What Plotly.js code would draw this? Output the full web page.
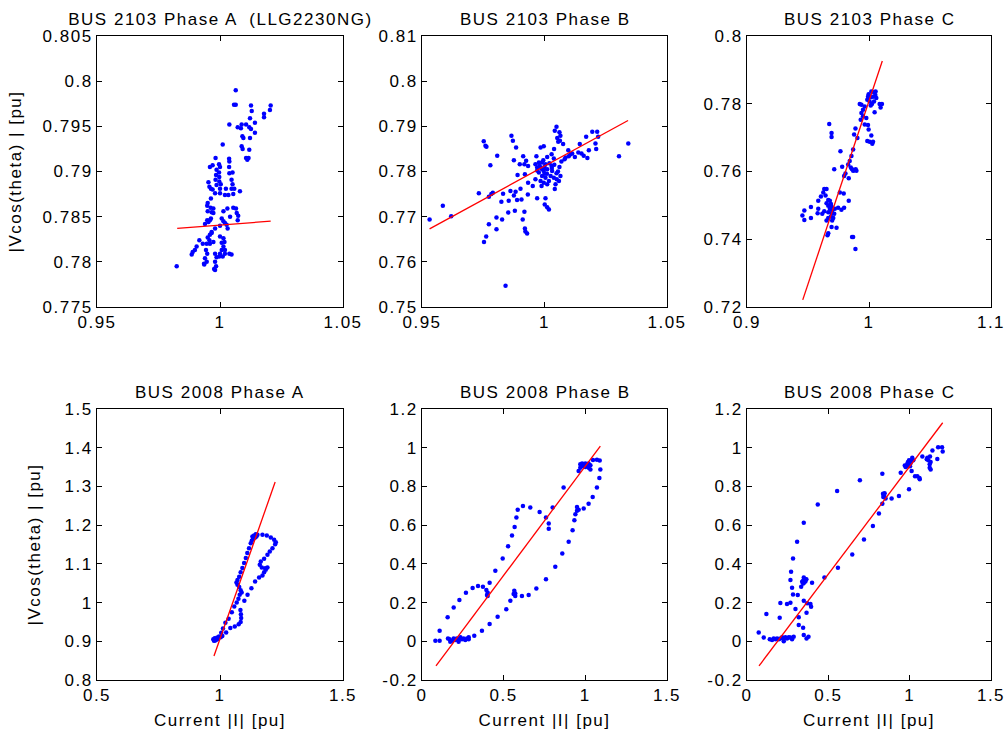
<!DOCTYPE html>
<html>
<head>
<meta charset="utf-8">
<script src="https://cdn.plot.ly/plotly-3.0.1.min.js"></script>
<style>
  html, body { margin: 0; padding: 0; background: #ffffff; }
  #fig { width: 1008px; height: 731px; }
  #fig text { letter-spacing: 1.5px; }
</style>
</head>
<body>
<div id="fig"></div>
<script>
// ---- measured samples: [current |I| (pu), |Vcos(theta)| (pu)] ----
const bus2103A = [
  [1.0064,0.7990],[1.0057,0.7974],[1.0064,0.7974],[1.0126,0.7973],[1.0129,0.7967],[1.0206,0.7973],[1.0203,0.7968],
  [1.0179,0.7964],[1.0179,0.7960],[1.0122,0.7959],[1.0142,0.7954],[1.0038,0.7952],[1.0088,0.7952],[1.0106,0.7952],
  [1.0119,0.7949],[1.0072,0.7949],[1.0085,0.7948],[1.0126,0.7947],[1.0142,0.7943],[1.0091,0.7939],[1.0095,0.7937],
  [1.0122,0.7937],[1.0011,0.7930],[1.0088,0.7928],[1.0092,0.7925],[1.0119,0.7924],[1.0106,0.7915],[1.0111,0.7913],
  [1.0116,0.7915],
  [0.9982,0.7915],[1.0037,0.7914],[1.0038,0.7911],[0.9959,0.7905],[0.9970,0.7907],[0.9996,0.7908],[1.0000,0.7905],
  [1.0037,0.7905],[0.9986,0.7902],[0.9996,0.7899],[0.9984,0.7896],[0.9997,0.7894],[1.0051,0.7899],[1.0038,0.7898],
  [0.9982,0.7891],[0.9997,0.7889],[1.0047,0.7891],[0.9953,0.7888],[0.9957,0.7883],[0.9986,0.7885],[1.0003,0.7886],
  [1.0000,0.7881],[0.9970,0.7880],[1.0051,0.7886],[1.0047,0.7881],[0.9963,0.7881],[1.0024,0.7881],[1.0058,0.7881],
  [1.0081,0.7878],[0.9980,0.7876],[1.0000,0.7876],[1.0034,0.7874],[1.0054,0.7875],[1.0020,0.7874],
  [0.9963,0.7870],[0.9950,0.7865],[0.9948,0.7862],[0.9962,0.7860],[0.9973,0.7859],[0.9950,0.7856],[0.9966,0.7855],
  [0.9973,0.7854],[1.0014,0.7856],[1.0030,0.7859],[1.0054,0.7860],[1.0065,0.7859],[1.0068,0.7854],[1.0074,0.7851],
  [1.0041,0.7850],[0.9963,0.7848],[0.9948,0.7846],
  [0.9939,0.7842],[0.9953,0.7844],[0.9959,0.7846],[1.0007,0.7848],[1.0014,0.7845],[1.0020,0.7843],[1.0027,0.7841],
  [1.0000,0.7840],[1.0031,0.7837],[1.0072,0.7846],[0.9966,0.7833],[0.9980,0.7837],
  [0.9959,0.7830],[0.9966,0.7832],[0.9950,0.7827],[0.9957,0.7824],[0.9916,0.7824],[0.9930,0.7820],[0.9946,0.7820],
  [0.9959,0.7820],[0.9973,0.7822],[1.0000,0.7828],[1.0014,0.7826],[1.0007,0.7821],[1.0018,0.7822],[1.0014,0.7817],
  [1.0020,0.7813],[1.0007,0.7813],[1.0000,0.7809],[1.0020,0.7809],[1.0011,0.7806],[0.9997,0.7806],[0.9986,0.7805],
  [0.9980,0.7809],[0.9905,0.7817],[0.9898,0.7813],[0.9889,0.7811],[0.9885,0.7808],[0.9943,0.7813],[0.9948,0.7809],
  [0.9939,0.7804],[0.9935,0.7798],[0.9946,0.7800],[0.9936,0.7797],[0.9980,0.7800],[0.9984,0.7795],[0.9976,0.7792],
  [0.9980,0.7791],[1.0038,0.7809],[1.0047,0.7808],[0.9824,0.7795]
];
const bus2103B = [
  [0.9531,0.7694],[0.9585,0.7724],[0.9619,0.7701],[0.9732,0.7752],[0.9773,0.7744],[0.9783,0.7750],[0.9789,0.7753],
  [0.9752,0.7867],[0.9759,0.7857],[0.9763,0.7855],[0.9807,0.7835],[0.9779,0.7814],[0.9865,0.7879],[0.9871,0.7868],
  [0.9884,0.7853],[0.9875,0.7825],[0.9913,0.7834],[0.9899,0.7816],[0.9918,0.7816],[0.9925,0.7824],[0.9933,0.7812],
  [0.9967,0.7834],[0.9984,0.7853],[0.9997,0.7856],[1.0011,0.7832],[1.0029,0.7838],[1.0039,0.7850],[1.0038,0.7829],
  [1.0052,0.7874],[1.0042,0.7890],[1.0049,0.7899],[1.0061,0.7887],[1.0065,0.7879],[1.0063,0.7868],[1.0076,0.7861],
  [1.0056,0.7866],[1.0097,0.7847],[1.0113,0.7840],[1.0124,0.7832],[1.0086,0.7831],[1.0082,0.7827],[1.0099,0.7834],
  [1.0106,0.7838],[1.0138,0.7842],[1.0144,0.7861],[1.0151,0.7840],[1.0170,0.7877],[1.0181,0.7847],[1.0195,0.7888],
  [1.0215,0.7888],[1.0219,0.7877],[1.0208,0.7862],[1.0211,0.7850],[1.0069,0.7822],[1.0061,0.7810],[1.0049,0.7796],
  [1.0059,0.7779],[1.0045,0.7772],[1.0042,0.7761],[1.0031,0.7801],[1.0038,0.7786],[0.9977,0.7820],[0.9990,0.7820],
  [1.0004,0.7816],[0.9984,0.7809],[0.9997,0.7801],[1.0011,0.7805],[0.9977,0.7798],[0.9990,0.7790],[1.0004,0.7786],
  [0.9984,0.7779],[0.9997,0.7775],[1.0011,0.7772],[0.9988,0.7768],[1.0025,0.7790],[1.0018,0.7779],[1.0029,0.7812],
  [0.9963,0.7816],[0.9970,0.7809],[0.9963,0.7783],[0.9952,0.7768],[0.9933,0.7775],[0.9920,0.7794],[0.9890,0.7792],
  [0.9902,0.7762],[0.9882,0.7755],[0.9875,0.7747],[0.9861,0.7757],[0.9831,0.7751],[0.9854,0.7735],[0.9824,0.7733],
  [0.9888,0.7737],[0.9906,0.7738],[0.9932,0.7749],[0.9970,0.7741],[1.0004,0.7741],[1.0001,0.7727],[1.0011,0.7721],
  [1.0018,0.7716],[0.9879,0.7713],[0.9852,0.7709],[0.9918,0.7711],[0.9804,0.7698],[0.9827,0.7694],[0.9911,0.7694],
  [0.9773,0.7683],[0.9804,0.7672],[0.9920,0.7674],[0.9922,0.7667],[0.9929,0.7663],[0.9762,0.7656],[0.9753,0.7644],
  [0.9841,0.7547],[1.0304,0.7834],[1.0342,0.7862],
  [1.0000,0.7810],[0.9990,0.7805],[1.0010,0.7795],[0.9980,0.7812],[1.0020,0.7818],[0.9970,0.7802],[1.0030,0.7808],
  [1.0000,0.7795],[0.9995,0.7825],[1.0040,0.7815],[1.0055,0.7800],[1.0065,0.7790],[1.0050,0.7783],[1.0160,0.7835],
  [1.0175,0.7830]
];
const bus2103C = [
  [0.9997,0.7828],[1.0019,0.7836],[1.0041,0.7834],[1.0054,0.7836],[0.9992,0.7821],[1.0014,0.7819],[1.0033,0.7821],
  [1.0052,0.7826],[1.0060,0.7817],[1.0041,0.7807],[1.0005,0.7807],[0.9986,0.7812],[1.0024,0.7799],[1.0014,0.7795],
  [1.0087,0.7799],[1.0106,0.7799],[1.0095,0.7789],[1.0046,0.7775],[0.9924,0.7799],[0.9938,0.7797],[0.9965,0.7792],
  [0.9951,0.7782],[0.9938,0.7773],[0.9951,0.7763],[0.9932,0.7753],[0.9978,0.7758],[0.9965,0.7739],[0.9992,0.7737],
  [0.9997,0.7724],[1.0019,0.7706],[0.9986,0.7690],[1.0005,0.7688],[1.0033,0.7688],[1.0027,0.7682],[0.9889,0.7727],
  [0.9878,0.7709],[0.9905,0.7699],[0.9674,0.7740],[0.9693,0.7714],[0.9693,0.7702],
  [0.9766,0.7660],[0.9870,0.7665],[0.9856,0.7646],[0.9842,0.7631],[0.9829,0.7621],[0.9851,0.7612],[0.9861,0.7607],
  [0.9878,0.7604],[0.9891,0.7607],[0.9897,0.7602],[0.9870,0.7602],[0.9715,0.7607],[0.9780,0.7614],[0.9807,0.7594],
  [0.9796,0.7587],[0.9834,0.7580],[0.9761,0.7538],[0.9793,0.7535],[0.9834,0.7514],
  [0.9633,0.7548],[0.9652,0.7548],[0.9625,0.7538],[0.9644,0.7529],[0.9606,0.7526],[0.9666,0.7516],[0.9679,0.7514],
  [0.9584,0.7514],[0.9652,0.7506],[0.9688,0.7504],[0.9666,0.7499],[0.9693,0.7496],[0.9679,0.7490],[0.9698,0.7485],
  [0.9720,0.7490],[0.9747,0.7493],[0.9796,0.7493],[0.9774,0.7487],[0.9666,0.7480],[0.9693,0.7477],[0.9715,0.7475],
  [0.9688,0.7467],[0.9707,0.7463],[0.9666,0.7463],[0.9698,0.7455],[0.9652,0.7455],[0.9633,0.7483],[0.9617,0.7475],
  [0.9579,0.7477],[0.9584,0.7490],[0.9524,0.7495],[0.9470,0.7485],[0.9454,0.7470],[0.9470,0.7457],[0.9524,0.7463],
  [0.9693,0.7436],[0.9734,0.7434],[0.9666,0.7418],[0.9660,0.7412],[0.9861,0.7407],[0.9870,0.7407],[0.9889,0.7371]
];
const bus2008A = [
  [0.9728,0.9052],[0.9783,0.9078],[0.9837,0.9034],[0.9891,0.9095],[0.9959,0.9121],[1.0027,0.9103],[1.0095,0.9138],
  [0.9755,0.9017],[0.9864,0.9069],[0.9800,0.9020],[0.9920,0.9060],[0.9770,0.9040],
  [1.0050,0.9220],[1.0120,0.9330],[1.0220,0.9480],[1.0350,0.9580],[1.0480,0.9750],[1.0580,0.9900],[1.0680,1.0000],
  [1.0750,1.0100],[1.0800,1.0200],[1.0880,1.0260],[1.0840,1.0320],[1.0780,1.0400],[1.0710,1.0460],[1.0670,1.0520],
  [1.0710,1.0580],[1.0780,1.0670],[1.0840,1.0780],[1.0910,1.0890],[1.0980,1.1020],[1.1050,1.1150],[1.1110,1.1280],
  [1.1180,1.1400],[1.1250,1.1530],[1.1291,1.1595],
  [1.1345,1.1647],[1.1427,1.1681],[1.1318,1.1707],[1.1386,1.1733],[1.1454,1.1767],[1.1522,1.1750],[1.1481,1.1707],
  [1.1400,1.1690],
  [1.1726,1.1750],[1.1902,1.1733],[1.2065,1.1681],[1.2201,1.1621],[1.2269,1.1560],[1.2242,1.1509],[1.2133,1.1405],
  [1.2024,1.1319],[1.1929,1.1233],[1.1793,1.1129],[1.1658,1.1060],[1.1617,1.0974],[1.1698,1.0905],[1.1834,1.0888],
  [1.1929,1.0905],[1.1861,1.0845],[1.1793,1.0784],[1.1726,1.0698],[1.1590,1.0647],[1.1427,1.0543],[1.1277,1.0371],
  [1.1120,1.0200],[1.0990,1.0050],
  [1.0830,0.9810],[1.0850,0.9700],[1.0860,0.9600],[1.0840,0.9500],[1.0760,0.9440],[1.0600,0.9380],[1.0420,0.9340],
  [1.0250,0.9230]
];
const bus2008B = [
  [0.082,0.003],[0.108,0.003],[0.108,0.055],[0.157,0.124],[0.194,0.175],[0.229,0.213],[0.269,0.251],[0.310,0.275],
  [0.343,0.285],[0.373,0.282],[0.394,0.265],[0.402,0.251],[0.398,0.239],[0.402,0.234],[0.414,0.302],[0.449,0.364],
  [0.494,0.428],[0.527,0.491],[0.551,0.546],[0.567,0.591],[0.578,0.639],[0.586,0.680],[0.618,0.699],[0.663,0.691],
  [0.720,0.668],[0.759,0.639],[0.776,0.608],[0.776,0.582],[0.800,0.691],[0.867,0.794],[0.959,0.880],
  [0.969,0.914],[0.980,0.918],[0.990,0.914],[1.000,0.918],[1.010,0.914],[0.986,0.904],[1.000,0.900],[1.020,0.897],
  [1.031,0.887],[1.031,0.909],[0.969,0.897],[1.020,0.918],
  [1.047,0.936],[1.071,0.938],[1.088,0.934],[1.092,0.887],[1.086,0.844],[1.071,0.794],[1.045,0.746],[1.020,0.711],
  [0.990,0.686],[0.959,0.680],[0.949,0.694],[0.949,0.674],[0.939,0.656],[0.933,0.625],[0.922,0.574],[0.898,0.514],
  [0.859,0.454],[0.816,0.385],[0.759,0.321],[0.700,0.273],[0.653,0.239],[0.612,0.234],[0.571,0.234],[0.571,0.247],
  [0.565,0.261],[0.561,0.244],[0.541,0.210],[0.516,0.165],[0.463,0.127],[0.414,0.089],[0.367,0.055],[0.320,0.029],
  [0.159,0.015],[0.169,0.010],[0.184,0.003],[0.194,0.015],[0.204,0.007],[0.214,0.015],[0.224,0.007],[0.235,0.021],
  [0.245,0.010],[0.255,0.015],[0.265,0.007],[0.276,0.015],[0.286,0.010],[0.173,-0.003],[0.224,-0.003],[0.286,0.021]
];
const bus2008C = [
  [0.072,0.045],[0.103,0.019],[0.119,0.141],
  [0.140,0.010],[0.154,0.007],[0.164,0.014],[0.175,0.010],[0.185,0.015],[0.195,0.010],[0.205,0.015],[0.216,0.021],
  [0.226,0.015],[0.236,0.021],[0.246,0.014],[0.257,0.021],[0.267,0.019],[0.277,0.010],[0.226,0.000],[0.287,0.024],
  [0.201,0.122],[0.205,0.198],[0.246,0.192],[0.267,0.199],[0.267,0.316],[0.271,0.359],[0.283,0.428],[0.277,0.277],
  [0.283,0.242],[0.298,0.167],[0.312,0.239],[0.308,0.514],[0.318,0.124],[0.318,0.084],[0.333,0.282],
  [0.339,0.307],[0.345,0.313],[0.349,0.301],[0.359,0.309],[0.349,0.330],[0.365,0.320],[0.345,0.299],[0.355,0.322],
  [0.349,0.612],[0.349,0.210],[0.345,0.070],[0.349,0.033],[0.366,0.148],[0.370,0.196],[0.366,0.015],[0.378,0.024],
  [0.390,0.192],[0.394,0.179],[0.400,0.302],[0.435,0.706],[0.476,0.330],[0.554,0.777],[0.559,0.380],[0.647,0.448],
  [0.694,0.832],[0.719,0.526],[0.774,0.596],[0.811,0.660],[0.832,0.711],[0.832,0.866],
  [0.836,0.762],[0.842,0.754],[0.838,0.745],[0.846,0.765],[0.852,0.737],[0.889,0.737],[0.934,0.751],[0.945,0.871],
  [0.996,0.785],
  [0.970,0.908],[0.975,0.900],[0.981,0.904],[0.986,0.918],[0.990,0.926],[0.996,0.935],[0.996,0.914],[1.002,0.904],
  [1.006,0.921],[1.010,0.935],
  [1.016,0.948],[1.022,0.935],[1.012,0.880],[1.033,0.852],[1.047,0.852],[1.062,0.837],[1.060,0.844],[1.078,0.955],
  [1.109,0.948],[1.115,0.935],[1.125,0.955],[1.129,0.926],[1.123,0.914],[1.123,0.897],[1.129,0.887],[1.105,0.940],
  [1.140,0.986],[1.170,0.942],[1.175,1.003],[1.199,1.003],[1.203,0.981]
];

// ---- least-squares fit lines: end points [I, V] ----
const fit2103A = [[0.9826,0.7837],[1.0206,0.7845]];
const fit2103B = [[0.9531,0.7673],[1.0341,0.7913]];
const fit2103C = [[0.9457,0.7221],[1.0109,0.7926]];
const fit2008A = [[0.9755,0.8620],[1.2242,1.3112]];
const fit2008B = [[0.0857,-0.127],[1.0918,1.0086]];
const fit2008C = [[0.0740,-0.127],[1.2030,1.1290]];

// ---- panel titles and ticks ----
const panelTitles = ['BUS 2103 Phase A  (LLG2230NG)', 'BUS 2103 Phase B', 'BUS 2103 Phase C',
                     'BUS 2008 Phase A', 'BUS 2008 Phase B', 'BUS 2008 Phase C'];
const xTickVals = [[0.95,1,1.05],[0.95,1,1.05],[0.9,1,1.1],[0.5,1,1.5],[0,0.5,1,1.5],[0,0.5,1,1.5]];
const xTickText = [['0.95','1','1.05'],['0.95','1','1.05'],['0.9','1','1.1'],['0.5','1','1.5'],['0','0.5','1','1.5'],['0','0.5','1','1.5']];
const yTickVals = [
  [0.775,0.78,0.785,0.79,0.795,0.8,0.805],
  [0.75,0.76,0.77,0.78,0.79,0.8,0.81],
  [0.72,0.74,0.76,0.78,0.8],
  [0.8,0.9,1,1.1,1.2,1.3,1.4,1.5],
  [-0.2,0,0.2,0.4,0.6,0.8,1,1.2],
  [-0.2,0,0.2,0.4,0.6,0.8,1,1.2]
];
const yTickText = [
  ['0.775','0.78','0.785','0.79','0.795','0.8','0.805'],
  ['0.75','0.76','0.77','0.78','0.79','0.8','0.81'],
  ['0.72','0.74','0.76','0.78','0.8'],
  ['0.8','0.9','1','1.1','1.2','1.3','1.4','1.5'],
  ['-0.2','0','0.2','0.4','0.6','0.8','1','1.2'],
  ['-0.2','0','0.2','0.4','0.6','0.8','1','1.2']
];
const xLabel = 'Current |I| [pu]';
const yLabel = '|Vcos(theta) | [pu]';

// ---- drawing ----
const samples = [bus2103A, bus2103B, bus2103C, bus2008A, bus2008B, bus2008C];
const fits = [fit2103A, fit2103B, fit2103C, fit2008A, fit2008B, fit2008C];
const xRanges = [[0.95,1.05],[0.95,1.05],[0.9,1.1],[0.5,1.5],[0,1.5],[0,1.5]];
const yRanges = [[0.775,0.805],[0.75,0.81],[0.72,0.8],[0.8,1.5],[-0.2,1.2],[-0.2,1.2]];

const W = 1008, H = 731;
const colsPx = [[97,343],[422,667],[747,991]];
const rowsPx = [[36,307],[409,680]];

const FONT = 'Liberation Sans, Arial, Helvetica, sans-serif';
const FS = 17;
const traces = [];
const layout = {
  width: W, height: H,
  margin: {l:0, r:0, t:0, b:0},
  paper_bgcolor: '#ffffff', plot_bgcolor: '#ffffff',
  showlegend: false,
  font: {family: FONT, size: FS, color: '#000000'},
  annotations: []
};

samples.forEach((pts, i) => {
  const n = i + 1;
  const xa = 'x' + (n === 1 ? '' : n), ya = 'y' + (n === 1 ? '' : n);
  traces.push({
    type: 'scatter', mode: 'markers', xaxis: xa, yaxis: ya,
    x: pts.map(p => p[0]), y: pts.map(p => p[1]),
    marker: {color: '#0000ff', size: 4.5, line: {width: 0}},
    hoverinfo: 'skip', cliponaxis: true
  });
  traces.push({
    type: 'scatter', mode: 'lines', xaxis: xa, yaxis: ya,
    x: fits[i].map(p => p[0]), y: fits[i].map(p => p[1]),
    line: {color: '#ff0000', width: 1.3},
    hoverinfo: 'skip'
  });

  const c = colsPx[i % 3], r = rowsPx[Math.floor(i / 3)];
  const xd = [c[0] / W, c[1] / W];
  const yd = [1 - r[1] / H, 1 - r[0] / H];
  const common = {
    showline: true, linecolor: '#000000', linewidth: 1, mirror: 'ticks',
    ticks: 'inside', ticklen: 5, tickwidth: 1, tickcolor: '#000000',
    showgrid: false, zeroline: false, fixedrange: true,
    tickfont: {family: FONT, size: FS, color: '#000000'}
  };
  layout['xaxis' + (n === 1 ? '' : n)] = Object.assign({}, common, {
    domain: xd, range: xRanges[i], anchor: ya,
    tickmode: 'array', tickvals: xTickVals[i], ticktext: xTickText[i],
    title: i >= 3 ? {text: xLabel, font: {family: FONT, size: FS}, standoff: 9} : {text: ''}
  });
  layout['yaxis' + (n === 1 ? '' : n)] = Object.assign({}, common, {
    domain: yd, range: yRanges[i], anchor: xa,
    tickmode: 'array', tickvals: yTickVals[i], ticktext: yTickText[i],
    title: i % 3 === 0 ? {text: yLabel, font: {family: FONT, size: FS}, standoff: 24} : {text: ''}
  });
  layout.annotations.push({
    text: panelTitles[i], xref: 'paper', yref: 'paper',
    x: (xd[0] + xd[1]) / 2, y: yd[1], xanchor: 'center', yanchor: 'bottom',
    yshift: 5, showarrow: false, font: {family: FONT, size: FS, color: '#000000'}
  });
});

Plotly.newPlot('fig', traces, layout, {staticPlot: true, displayModeBar: false});
</script>
</body>
</html>
